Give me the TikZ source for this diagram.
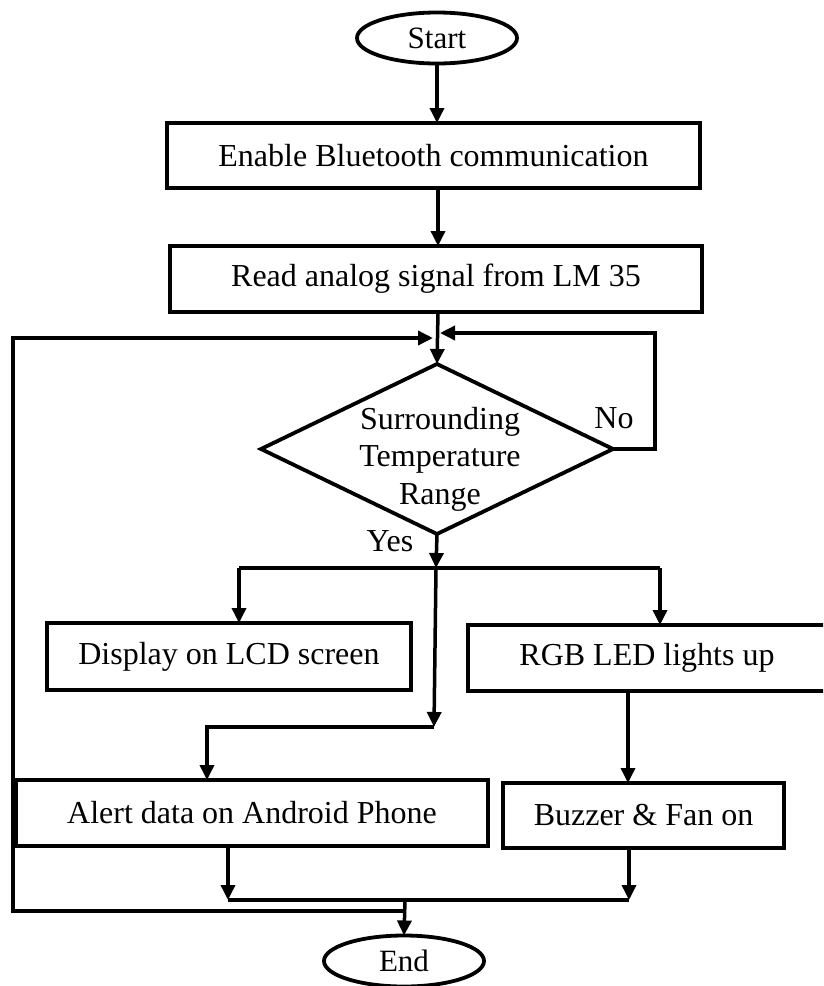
\documentclass[tikz,border=0pt]{standalone}
\usepackage{fontspec}
\setmainfont{Liberation Serif}
\usetikzlibrary{shapes.geometric,arrows.meta}
\tikzset{
  boxstyle/.style={draw, rectangle, line width=3.8pt, inner sep=0pt, outer sep=0pt, font=\fontsize{32}{37.5}\selectfont},
  termstyle/.style={draw, ellipse, line width=3.8pt, inner sep=0pt, outer sep=0pt, minimum width=160pt, minimum height=51pt, font=\fontsize{31}{36}\selectfont},
  decstyle/.style={draw, diamond, line width=3.8pt, inner sep=0pt, outer sep=0pt, minimum width=352pt, minimum height=170pt},
  lbl/.style={font=\fontsize{32}{37.5}\selectfont, inner sep=0pt, align=center},
  conn/.style={line width=3.5pt},
  arr/.style={line width=3.5pt, -{Triangle[length=15pt,width=14pt]}}
}
\begin{document}
\begin{tikzpicture}[x=1pt,y=-1pt]
\useasboundingbox (0,0) rectangle (823,986);
\clip (0,0) rectangle (823,986);
% nodes
\node[termstyle] (start) at (437,38) {Start};
\node[boxstyle, minimum width=533pt, minimum height=65pt] (enable) at (433.5,155.5) {Enable Bluetooth communication};
\node[boxstyle, minimum width=532pt, minimum height=66pt] (read) at (436,279) {Read analog signal from LM 35};
\node[decstyle] (dec) at (437,449) {};
\node[lbl] (dectext) at (440,459) {Surrounding\\Temperature\\Range};
\node[lbl] (no) at (614,418) {No};
\node[lbl] (yes) at (390,541) {Yes};
\node[boxstyle, minimum width=364pt, minimum height=67pt] (display) at (229,656.5) {Display on LCD screen};
\node[boxstyle, minimum width=358pt, minimum height=66pt] (rgb) at (647,658) {RGB LED lights up};
\node[boxstyle, minimum width=472pt, minimum height=66pt] (alert) at (252,813) {Alert data on Android Phone};
\node[boxstyle, minimum width=281pt, minimum height=65pt] (buzzer) at (643.5,815.5) {Buzzer \& Fan on};
\node[termstyle] (end) at (404,961) {End};
% helper coordinates
\coordinate (mx) at (438,0);
\coordinate (noC) at (655,333);
\coordinate (noEnd) at (440,333);
\coordinate (loopEnd) at (433,338);
\coordinate (loopC) at (13,911);
\coordinate (split) at (436,568);
\coordinate (splitL) at (239,568);
\coordinate (splitR) at (660,568);
\coordinate (midEnd) at (434,727);
\coordinate (alertC) at (207,727);
\coordinate (joinL) at (228,900);
\coordinate (joinR) at (629,900);
\coordinate (joinM) at (405,900);
\coordinate (loopStart) at (405,911);
% connectors
\draw[arr] (start.south) -- (start.south |- enable.north);
\draw[arr] (enable.south -| mx) -- (read.north -| mx);
\draw[arr] (read.south -| mx) -- (dec.north);
\draw[arr] (dec.east) -| (noC) -- (noEnd);
\draw[arr] (loopStart) -- (loopC) |- (loopEnd);
\draw[arr] (dec.south) -- (split);
\draw[conn] (splitL) -- (splitR);
\draw[arr] (splitL) -- (splitL |- display.north);
\draw[arr] (splitR) -- (splitR |- rgb.north);
\draw[arr] (split) -- (midEnd);
\draw[arr] (midEnd) -- (alertC) -- (alertC |- alert.north);
\draw[arr] (rgb.south -| 628,0) -- (buzzer.north -| 628,0);
\draw[arr] (alert.south -| joinL) -- (joinL);
\draw[arr] (buzzer.south -| joinR) -- (joinR);
\draw[conn] (joinL) -- (joinR);
\draw[arr] (joinM) -- (end.north);
\end{tikzpicture}
\end{document}
